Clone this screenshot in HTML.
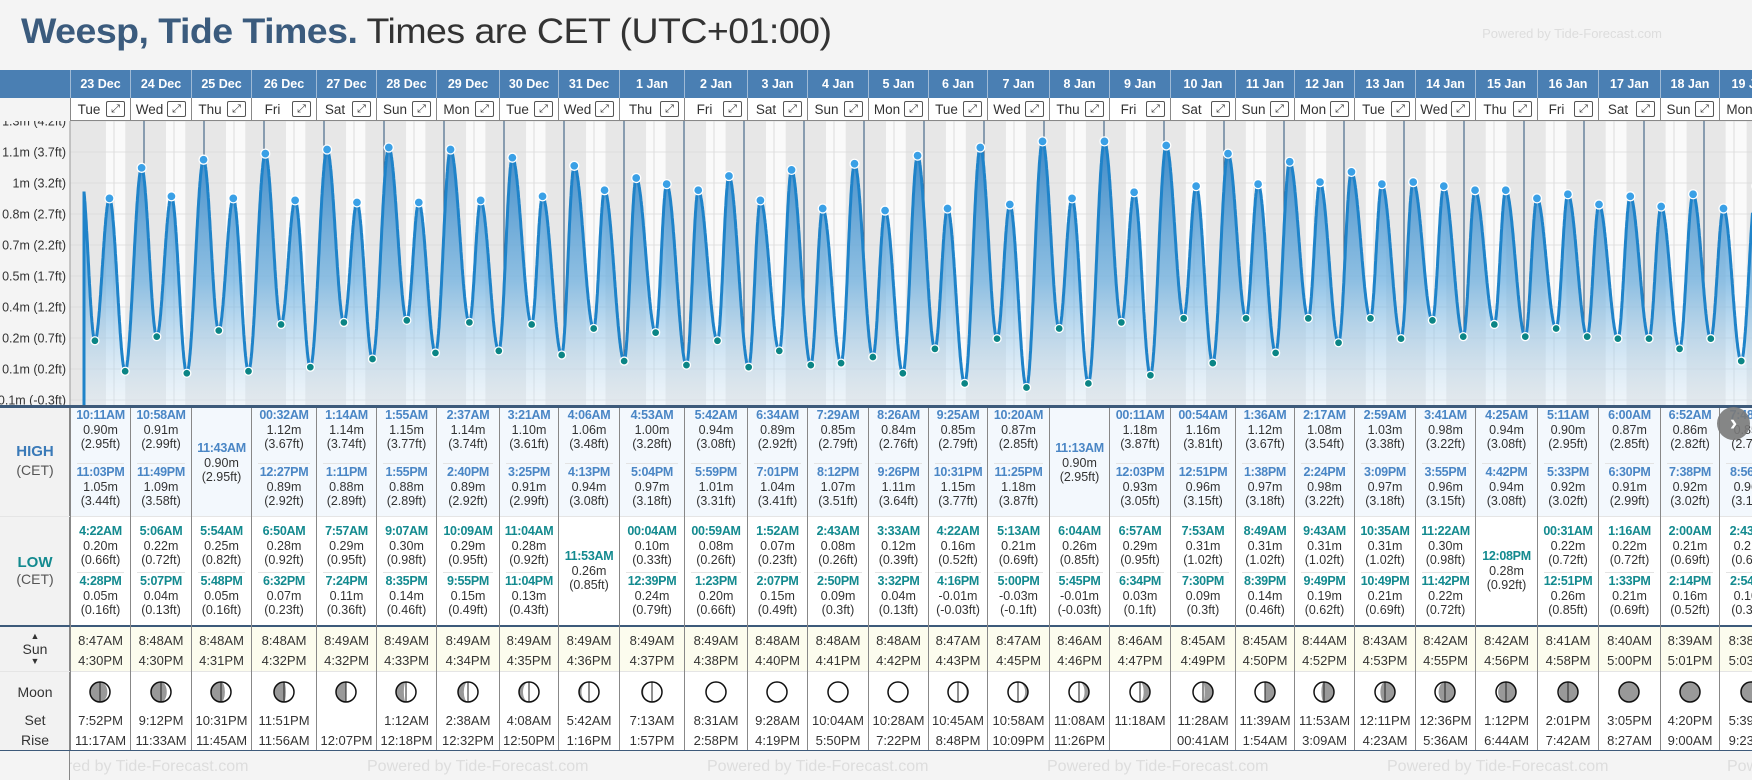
<!DOCTYPE html>
<html><head><meta charset="utf-8">
<style>
*{box-sizing:border-box;margin:0;padding:0}
html,body{width:1752px;height:780px;overflow:hidden}
body{background:#f4f4f4;font-family:"Liberation Sans",Arial,sans-serif;position:relative;color:#333}
.abs{position:absolute}
#title{left:21px;top:12px;font-size:35px;white-space:nowrap;transform-origin:0 0;letter-spacing:-0.5px}
#title b{color:#3b5b7d}
#pw{right:90px;top:26px;font-size:13px;color:#ddd}
.hd{position:absolute;top:70px;height:28px;background:#4a7fb3;color:#fff;font-weight:bold;font-size:12.5px;text-align:center;line-height:28px;border-left:1px solid #9fbad6}
.dy{position:absolute;top:98px;height:23px;background:#fff;font-size:13.5px;line-height:23px;border-left:1px solid #888;border-bottom:1px solid #888}
.dy .ic{position:absolute;right:5px;top:3px;width:19px;height:16px;border:1px solid #555;border-radius:2px;font-size:11px;line-height:14px;text-align:center;font-family:"DejaVu Sans",sans-serif}
.col{position:absolute;border-left:1px solid #888}
.e{position:absolute;left:0;right:0;text-align:center;font-size:12.5px;line-height:14.5px;white-space:nowrap}
.e .t{font-weight:bold;font-size:12.5px;letter-spacing:-0.3px}
.hi .t{color:#4a86c5}
.lo .t{color:#138a8f}
.sep{position:absolute;left:6px;right:6px;height:1px;background:#e3e3e3}
.lbl{position:absolute;left:0;width:70px;text-align:center;font-size:14px}
.wm{position:absolute;top:758px;font-size:16px;color:#ddd;white-space:nowrap}
#cols,#wms{position:absolute;left:0;top:0;width:1752px;height:780px;overflow:hidden}
</style></head><body>
<div id="title" class="abs"><b>Weesp, Tide Times.</b> Times are CET (UTC+01:00)</div>
<div id="pw" class="abs">Powered by Tide-Forecast.com</div>
<div class="abs" style="left:0;top:70px;width:70px;height:28px;background:#4a7fb3"></div>
<div class="abs" style="left:0;top:406px;width:1752px;height:345px;background:#fff"></div>
<div class="abs" style="left:0;top:406px;width:70px;height:345px;background:#f2f2f2;border-right:1px solid #888"></div>
<div class="abs" style="left:70px;top:408px;width:1682px;height:109px;background:#f3f8fd"></div>
<div class="abs" style="left:70px;top:627px;width:1682px;height:45px;background:#fcfcee"></div>
<div class="abs" style="left:0;top:516px;width:1752px;height:1px;background:#e5e5e5"></div>
<div class="abs" style="left:0;top:671px;width:1752px;height:1px;background:#e5e5e5"></div>
<div class="abs" style="left:0;top:625px;width:1752px;height:2px;background:#3d5a7a"></div>
<div class="abs" style="left:0;top:750px;width:1752px;height:1px;background:#3d5a7a"></div>
<div class="lbl" style="top:443px;color:#3a7ab8;font-weight:bold;font-size:15px">HIGH</div>
<div class="lbl" style="top:462px;color:#555">(CET)</div>
<div class="lbl" style="top:554px;color:#138a8f;font-weight:bold;font-size:15px">LOW</div>
<div class="lbl" style="top:571px;color:#555">(CET)</div>
<div class="lbl" style="top:631px;font-size:9px">▲</div>
<div class="lbl" style="top:641px">Sun</div>
<div class="lbl" style="top:656px;font-size:9px">▼</div>
<div class="lbl" style="top:684px">Moon</div>
<div class="lbl" style="top:712px">Set</div>
<div class="lbl" style="top:732px">Rise</div>
<div id="wms"></div>
<svg id="chart" class="abs" style="left:0;top:0" width="1752" height="408"></svg>
<div id="cols"></div>
<div class="abs" style="left:1717px;top:407px;width:33px;height:33px;border-radius:50%;background:#7a7a7a;color:#fff;font-size:22px;font-weight:bold;text-align:center;line-height:31px;opacity:.9">›</div>
<script>
const dates=["23 Dec","24 Dec","25 Dec","26 Dec","27 Dec","28 Dec","29 Dec","30 Dec","31 Dec","1 Jan","2 Jan","3 Jan","4 Jan","5 Jan","6 Jan","7 Jan","8 Jan","9 Jan","10 Jan","11 Jan","12 Jan","13 Jan","14 Jan","15 Jan","16 Jan","17 Jan","18 Jan","19 Jan"];
const dayNames=["Tue","Wed","Thu","Fri","Sat","Sun","Mon","Tue","Wed","Thu","Fri","Sat","Sun","Mon","Tue","Wed","Thu","Fri","Sat","Sun","Mon","Tue","Wed","Thu","Fri","Sat","Sun","Mon"];
const highTimes=[["10:11AM","11:03PM"],["10:58AM","11:49PM"],["11:43AM"],["00:32AM","12:27PM"],["1:14AM","1:11PM"],["1:55AM","1:55PM"],["2:37AM","2:40PM"],["3:21AM","3:25PM"],["4:06AM","4:13PM"],["4:53AM","5:04PM"],["5:42AM","5:59PM"],["6:34AM","7:01PM"],["7:29AM","8:12PM"],["8:26AM","9:26PM"],["9:25AM","10:31PM"],["10:20AM","11:25PM"],["11:13AM"],["00:11AM","12:03PM"],["00:54AM","12:51PM"],["1:36AM","1:38PM"],["2:17AM","2:24PM"],["2:59AM","3:09PM"],["3:41AM","3:55PM"],["4:25AM","4:42PM"],["5:11AM","5:33PM"],["6:00AM","6:30PM"],["6:52AM","7:38PM"],["7:48AM","8:56PM"]];
const highValues=[[0.90,1.05],[0.91,1.09],[0.90],[1.12,0.89],[1.14,0.88],[1.15,0.88],[1.14,0.89],[1.10,0.91],[1.06,0.94],[1.00,0.97],[0.94,1.01],[0.89,1.04],[0.85,1.07],[0.84,1.11],[0.85,1.15],[0.87,1.18],[0.90],[1.18,0.93],[1.16,0.96],[1.12,0.97],[1.08,0.98],[1.03,0.97],[0.98,0.96],[0.94,0.94],[0.90,0.92],[0.87,0.91],[0.86,0.92],[0.85,0.96]];
const lowTimes=[["4:22AM","4:28PM"],["5:06AM","5:07PM"],["5:54AM","5:48PM"],["6:50AM","6:32PM"],["7:57AM","7:24PM"],["9:07AM","8:35PM"],["10:09AM","9:55PM"],["11:04AM","11:04PM"],["11:53AM"],["00:04AM","12:39PM"],["00:59AM","1:23PM"],["1:52AM","2:07PM"],["2:43AM","2:50PM"],["3:33AM","3:32PM"],["4:22AM","4:16PM"],["5:13AM","5:00PM"],["6:04AM","5:45PM"],["6:57AM","6:34PM"],["7:53AM","7:30PM"],["8:49AM","8:39PM"],["9:43AM","9:49PM"],["10:35AM","10:49PM"],["11:22AM","11:42PM"],["12:08PM"],["00:31AM","12:51PM"],["1:16AM","1:33PM"],["2:00AM","2:14PM"],["2:43AM","2:54PM"]];
const lowValues=[[0.20,0.05],[0.22,0.04],[0.25,0.05],[0.28,0.07],[0.29,0.11],[0.30,0.14],[0.29,0.15],[0.28,0.13],[0.26],[0.10,0.24],[0.08,0.20],[0.07,0.15],[0.08,0.09],[0.12,0.04],[0.16,-0.01],[0.21,-0.03],[0.26,-0.01],[0.29,0.03],[0.31,0.09],[0.31,0.14],[0.31,0.19],[0.31,0.21],[0.30,0.22],[0.28],[0.22,0.26],[0.22,0.21],[0.21,0.16],[0.21,0.10]];
const sunrise=["8:47AM","8:48AM","8:48AM","8:48AM","8:49AM","8:49AM","8:49AM","8:49AM","8:49AM","8:49AM","8:49AM","8:48AM","8:48AM","8:48AM","8:47AM","8:47AM","8:46AM","8:46AM","8:45AM","8:45AM","8:44AM","8:43AM","8:42AM","8:42AM","8:41AM","8:40AM","8:39AM","8:38AM"];
const sunset=["4:30PM","4:30PM","4:31PM","4:32PM","4:32PM","4:33PM","4:34PM","4:35PM","4:36PM","4:37PM","4:38PM","4:40PM","4:41PM","4:42PM","4:43PM","4:45PM","4:46PM","4:47PM","4:49PM","4:50PM","4:52PM","4:53PM","4:55PM","4:56PM","4:58PM","5:00PM","5:01PM","5:03PM"];
const moonSet=["7:52PM","9:12PM","10:31PM","11:51PM","","1:12AM","2:38AM","4:08AM","5:42AM","7:13AM","8:31AM","9:28AM","10:04AM","10:28AM","10:45AM","10:58AM","11:08AM","11:18AM","11:28AM","11:39AM","11:53AM","12:11PM","12:36PM","1:12PM","2:01PM","3:05PM","4:20PM","5:39PM"];
const moonRise=["11:17AM","11:33AM","11:45AM","11:56AM","12:07PM","12:18PM","12:32PM","12:50PM","1:16PM","1:57PM","2:58PM","4:19PM","5:50PM","7:22PM","8:48PM","10:09PM","11:26PM","","00:41AM","1:54AM","3:09AM","4:23AM","5:36AM","6:44AM","7:42AM","8:27AM","9:00AM","9:23AM"];
const moonAge=[3.5,4.5,5.5,6.5,7.4,8.4,9.4,10.4,11.4,12.4,13.4,14.4,15.4,16.4,17.4,18.4,19.4,20.4,21.4,22.4,23.4,24.4,25.4,26.4,27.4,28.4,29.2,0.6];
const preHigh={day:-1,time:"11:00PM",value:1.0};
const yTicksFt=[4.2,3.7,3.2,2.7,2.2,1.7,1.2,0.7,0.2,-0.3];
const yTickLabels=["1.3m (4.2ft)","1.1m (3.7ft)","1m (3.2ft)","0.8m (2.7ft)","0.7m (2.2ft)","0.5m (1.7ft)","0.4m (1.2ft)","0.2m (0.7ft)","0.1m (0.2ft)","-0.1m (-0.3ft)"];

const bounds=[70,130,191,251,316,376,436,499,558,619,684,747,807,868,928,987,1049,1109,1170,1235,1294,1354,1415,1475,1537,1598,1660,1719,1782];
const CT=121,CB=406,CL=70;
function hrs(t){const m=t.match(/(\d+):(\d+)(AM|PM)/);let h=+m[1]%12;if(m[3]=="PM")h+=12;return h+(+m[2])/60;}
function xS(day){return 84+60*day;}
function yS(v){return 369-(v-0.061)*203.4;}
function ftToM(f){return f*0.3048;}
const NS="http://www.w3.org/2000/svg";
const svg=document.getElementById('chart');
function mk(tag,attrs,parent){const e=document.createElementNS(NS,tag);for(const k in attrs)e.setAttribute(k,attrs[k]);(parent||svg).appendChild(e);return e;}
const ti=document.getElementById('title');ti.style.transform='scaleX('+(810/ti.offsetWidth)+')';
const defs=mk('defs',{});
const cp=mk('clipPath',{id:'cc'},defs);mk('rect',{x:CL,y:CT,width:1752-CL,height:CB-CT},cp);
const cp2=mk('clipPath',{id:'cl'},defs);mk('rect',{x:0,y:CT,width:CL,height:CB-CT+4},cp2);
const lg=mk('linearGradient',{id:'g',x1:0,y1:130,x2:0,y2:CB,gradientUnits:'userSpaceOnUse'},defs);
mk('stop',{offset:0,'stop-color':'#2d7fc2','stop-opacity':0.95},lg);
mk('stop',{offset:0.55,'stop-color':'#68aee0','stop-opacity':0.7},lg);
mk('stop',{offset:1,'stop-color':'#dcecf8','stop-opacity':0.35},lg);
const g=mk('g',{'clip-path':'url(#cc)'});


const gl=mk('g',{'clip-path':'url(#cl)'});


mk('rect',{x:CL,y:CT,width:1752-CL,height:CB-CT,fill:'#e7e7e7'},g);
for(let i=0;i<dates.length;i++){
  const r=mk('rect',{x:xS(i+hrs(sunrise[i])/24),y:CT,width:xS(i+hrs(sunset[i])/24)-xS(i+hrs(sunrise[i])/24),height:CB-CT,fill:'#fafafa'},g);
  
  
  mk('line',{x1:xS(i+0.5),x2:xS(i+0.5),y1:CT,y2:CB,stroke:'#dcdcdc','stroke-width':1},g);
}
for(let i=0;i<yTicksFt.length;i++){
  const y=yS(ftToM(yTicksFt[i]));
  mk('line',{x1:CL,x2:1752,y1:y,y2:y,stroke:'#d9d9d9','stroke-width':1,'stroke-opacity':0.7},g);
  const t=mk('text',{x:66,y:y+4.5,'text-anchor':'end','font-size':'12.5','fill':'#333','font-family':'Liberation Sans, sans-serif'},gl);
  t.textContent=yTickLabels[i];
  
  
}
let ev=[{d:preHigh.day+hrs(preHigh.time)/24,v:preHigh.value,type:'h'}];
for(let i=0;i<dates.length;i++){
  highTimes[i].forEach((t,j)=>ev.push({d:i+hrs(t)/24,v:highValues[i][j],type:'h'}));
  lowTimes[i].forEach((t,j)=>ev.push({d:i+hrs(t)/24,v:lowValues[i][j],type:'l'}));
}
ev.sort((a,b)=>a.d-b.d);
function val(d){for(let k=0;k<ev.length-1;k++){const a=ev[k],b=ev[k+1];if(d>=a.d&&d<=b.d){const f=(d-a.d)/(b.d-a.d);return a.v+(b.v-a.v)*(1-Math.cos(Math.PI*f))/2;}}return ev[ev.length-1].v;}
let pts=[];const dEnd=(1752-84)/60;
for(let d=0;d<=dEnd+0.01;d+=0.004)pts.push([xS(d),yS(val(d))]);
const lineD='M'+pts.map(p=>p[0].toFixed(1)+','+p[1].toFixed(1)).join('L');
const area=mk('path',{d:lineD+'L'+xS(dEnd)+','+CB+'L'+xS(0)+','+CB+'Z',fill:'url(#g)'},g);


for(let i=1;i<=dates.length;i++){
  const x=xS(i);
  mk('line',{x1:x,x2:x,y1:CT,y2:yS(val(i)),stroke:'#4a6a8a','stroke-width':1.2},g);
}
const ln=mk('path',{d:lineD,fill:'none',stroke:'#1f83c9','stroke-width':3,'stroke-linejoin':'round'},g);


mk('line',{x1:84,x2:84,y1:yS(val(0)),y2:CB,stroke:'#1f83c9','stroke-width':3},g);
ev.forEach(e=>{if(e.d<0)return;
  const c=mk('circle',{cx:xS(e.d),cy:yS(e.v),r:e.type=='h'?4.5:4,fill:e.type=='h'?'#3aa0e6':'#0b8585',stroke:'#fff','stroke-width':1.3},g);
  
  
});
mk('line',{x1:CL,x2:CL,y1:CT,y2:CB,stroke:'#999','stroke-width':1});
mk('rect',{x:0,y:405,width:1752,height:3,fill:'#3d5a7a'});
const cols=document.getElementById('cols');
function ftStr(v){let f=v/0.3048;let s=f.toFixed(2);if(s.endsWith('0'))s=f.toFixed(1);return s;}
for(let i=0;i<dates.length;i++){
  const x=bounds[i],w=bounds[i+1]-bounds[i];
  const h=document.createElement('div');h.className='hd';h.style.left=x+'px';h.style.width=w+'px';h.textContent=dates[i];
  
  
  cols.appendChild(h);
  const dy=document.createElement('div');dy.className='dy';dy.style.left=x+'px';dy.style.width=w+'px';
  
  
  dy.innerHTML='<span style="position:absolute;left:0;width:'+(w-24)+'px;text-align:center">'+dayNames[i]+'</span>';
  const ic=document.createElement('div');ic.className='ic';ic.textContent='⤢';
  
  
  dy.appendChild(ic);cols.appendChild(dy);
  const c=document.createElement('div');c.className='col';c.style.left=x+'px';c.style.top='408px';c.style.width=w+'px';c.style.height='342px';
  
  
  cols.appendChild(c);
  const mkE=(cls,t,v,top)=>{const e=document.createElement('div');e.className='e '+cls;e.style.top=top+'px';
    
    
    e.innerHTML='<div class="t">'+t+'</div><div>'+v.toFixed(2)+'m</div><div>('+ftStr(v)+'ft)</div>';c.appendChild(e);};
  const sep=(top)=>{const s=document.createElement('div');s.className='sep';s.style.top=top+'px';c.appendChild(s);};
  if(highTimes[i].length==2){mkE('hi',highTimes[i][0],highValues[i][0],0);sep(55);mkE('hi',highTimes[i][1],highValues[i][1],57);}
  else mkE('hi',highTimes[i][0],highValues[i][0],33);
  if(lowTimes[i].length==2){mkE('lo',lowTimes[i][0],lowValues[i][0],116);sep(164);mkE('lo',lowTimes[i][1],lowValues[i][1],166);}
  else mkE('lo',lowTimes[i][0],lowValues[i][0],141);
  const su=document.createElement('div');su.className='e';su.style.top='223px';su.style.lineHeight='20px';su.style.fontSize='13px';
  
  
  su.innerHTML='<div>'+sunrise[i]+'</div><div>'+sunset[i]+'</div>';c.appendChild(su);
  const mo=document.createElement('div');mo.className='e';mo.style.top='303px';mo.style.lineHeight='20px';mo.style.fontSize='13px';
  
  
  mo.innerHTML='<div>'+(moonSet[i]||'&nbsp;')+'</div><div>'+(moonRise[i]||'&nbsp;')+'</div>';c.appendChild(mo);
  const cx=x+w/2,cy=692,r=10;
  const ms=document.createElementNS(NS,'svg');ms.setAttribute('width',24);ms.setAttribute('height',24);
  ms.style.position='absolute';ms.style.left=(cx-12)+'px';ms.style.top=(cy-12)+'px';
  
  
  const age=moonAge[i],th=2*Math.PI*age/29.53,f=(1-Math.cos(th))/2,waxing=age<14.77;
  mk('circle',{cx:12,cy:12,r:r,fill:'#999'},ms);
  const rx=Math.abs(Math.cos(th))*r;
  let d;
  if(waxing) d='M12,2 A10,10 0 0 1 12,22 A'+rx+','+r+' 0 0 '+(f<0.5?0:1)+' 12,2Z';
  else d='M12,2 A10,10 0 0 0 12,22 A'+rx+','+r+' 0 0 '+(f<0.5?1:0)+' 12,2Z';
  mk('path',{d:d,fill:'#fff'},ms);
  mk('line',{x1:12,x2:12,y1:2,y2:22,stroke:'#222','stroke-width':f>0.05&&f<0.95?1:0},ms);
  mk('circle',{cx:12,cy:12,r:r,fill:'none',stroke:'#111','stroke-width':1.5},ms);
  cols.appendChild(ms);
}
const wms=document.getElementById('wms');
[27,367,707,1047,1387,1727].forEach(x=>{const w=document.createElement('div');w.className='wm';w.style.left=x+'px';w.textContent='Powered by Tide-Forecast.com';
  
  
  wms.appendChild(w);});
const cover=document.createElement('div');cover.className='abs';cover.style.cssText='left:0;top:751px;width:70px;height:29px;background:#f4f4f4;border-right:1px solid #888';wms.appendChild(cover);
</script>
</body></html>
